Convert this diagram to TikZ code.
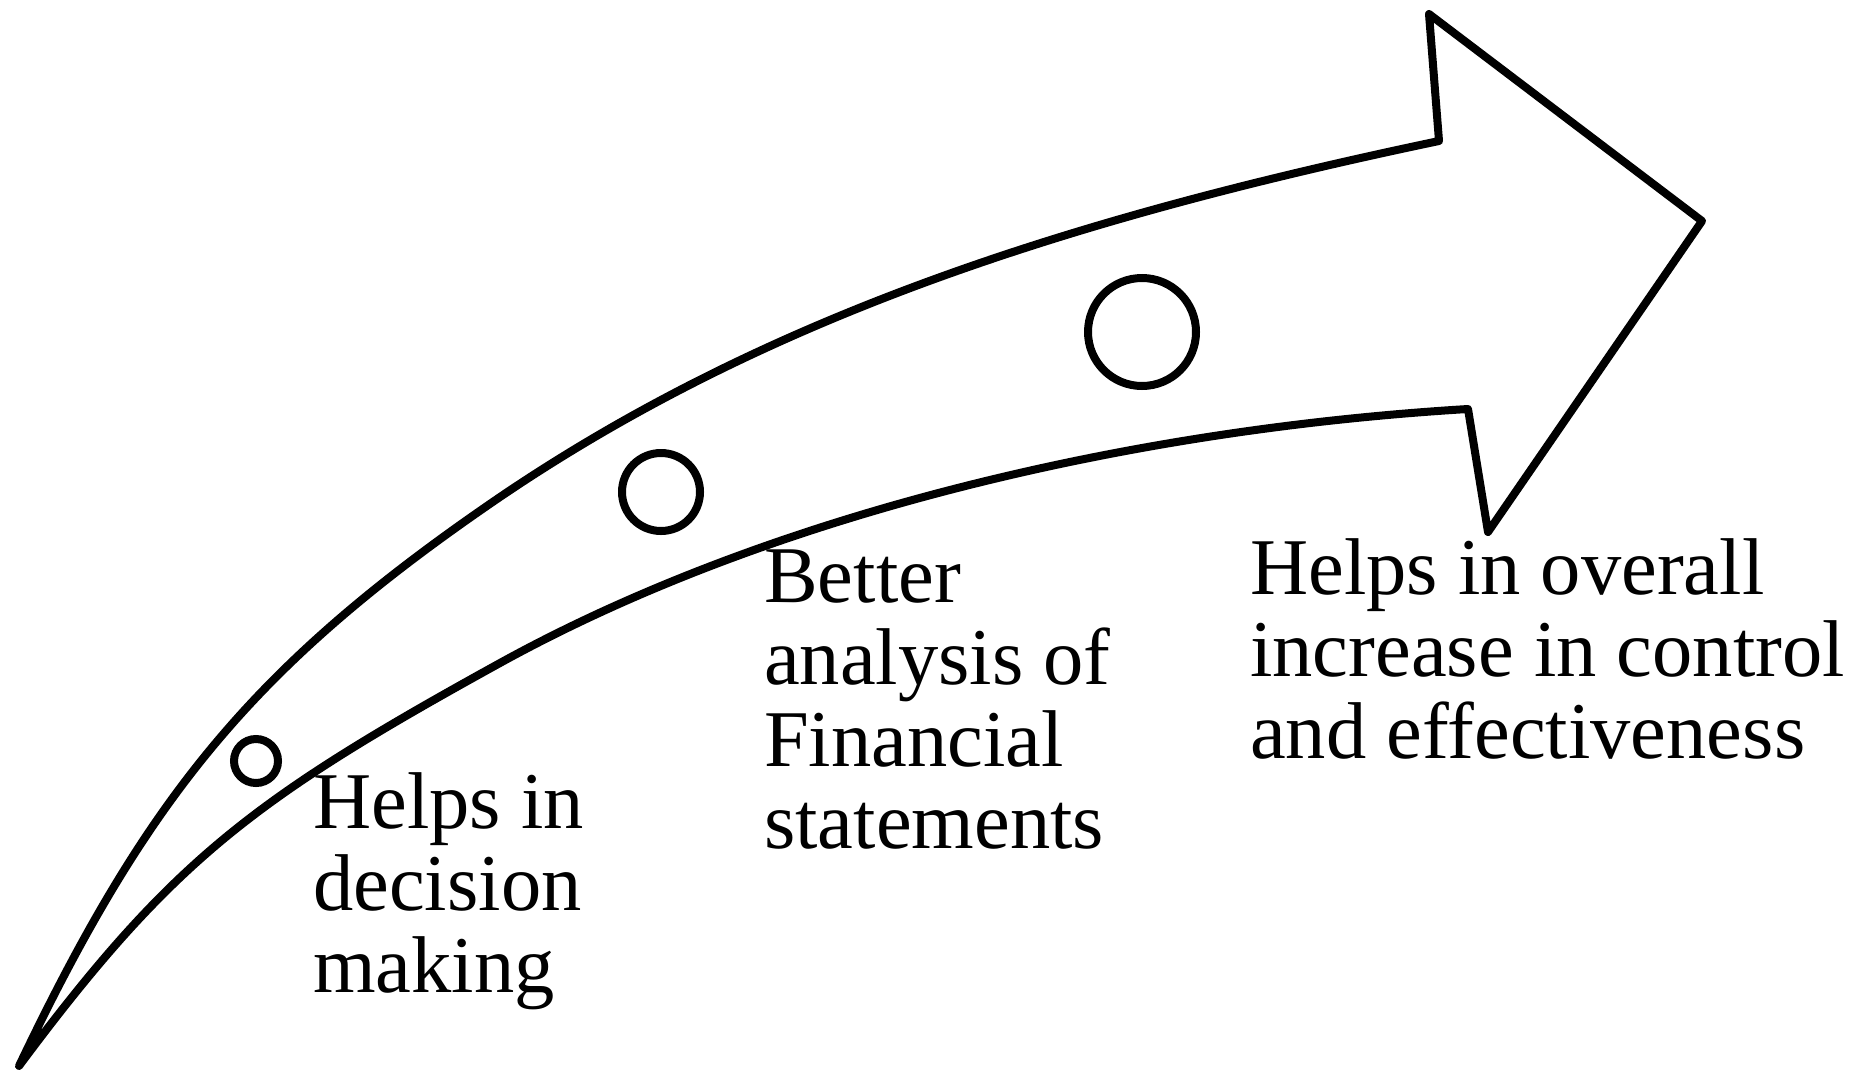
\documentclass[tikz,border=0pt]{standalone}
\usepackage{fontspec}
\setmainfont{Liberation Serif}
\begin{document}
\begin{tikzpicture}[x=1pt,y=-1pt,
  arrowline/.style={line width=8pt, line join=round, line cap=round},
  ring/.style={circle, draw, line width=8pt, inner sep=0pt},
  lbl/.style={anchor=north west, inner sep=0pt, align=left, font=\fontsize{80.5}{82}\selectfont}]
\useasboundingbox (0,0) rectangle (1849,1071);
\coordinate (tail) at (19,1066);
\coordinate (um) at (500,497);
\coordinate (U) at (1439,141);
\coordinate (A) at (1429,14);
\coordinate (tip) at (1702,221);
\coordinate (B) at (1488,532);
\coordinate (L) at (1468,409);
\coordinate (lm) at (500,663);
\draw[arrowline] (tail) .. controls (147,798) and (252,666) .. (um)
  .. controls (767,316) and (1072,218) .. (U)
  -- (A) -- (tip) -- (B) -- (L)
  .. controls (1119,430) and (763,518) .. (lm)
  .. controls (255,798) and (173,859) .. (tail) -- cycle;
\node[ring, minimum size=44pt] (c1) at (256,761) {};
\node[ring, minimum size=78pt] (c2) at (661,492) {};
\node[ring, minimum size=108pt] (c3) at (1142,332) {};
\node[lbl] (t1) at (313,770.6) {\strut Helps in\\decision\\making};
\node[lbl] (t2) at (764,544.6) {\strut Better\\analysis of\\Financial\\statements};
\node[lbl] (t3) at (1250,536.6) {\strut Helps in overall\\increase in control\\and effectiveness};
\end{tikzpicture}
\end{document}
